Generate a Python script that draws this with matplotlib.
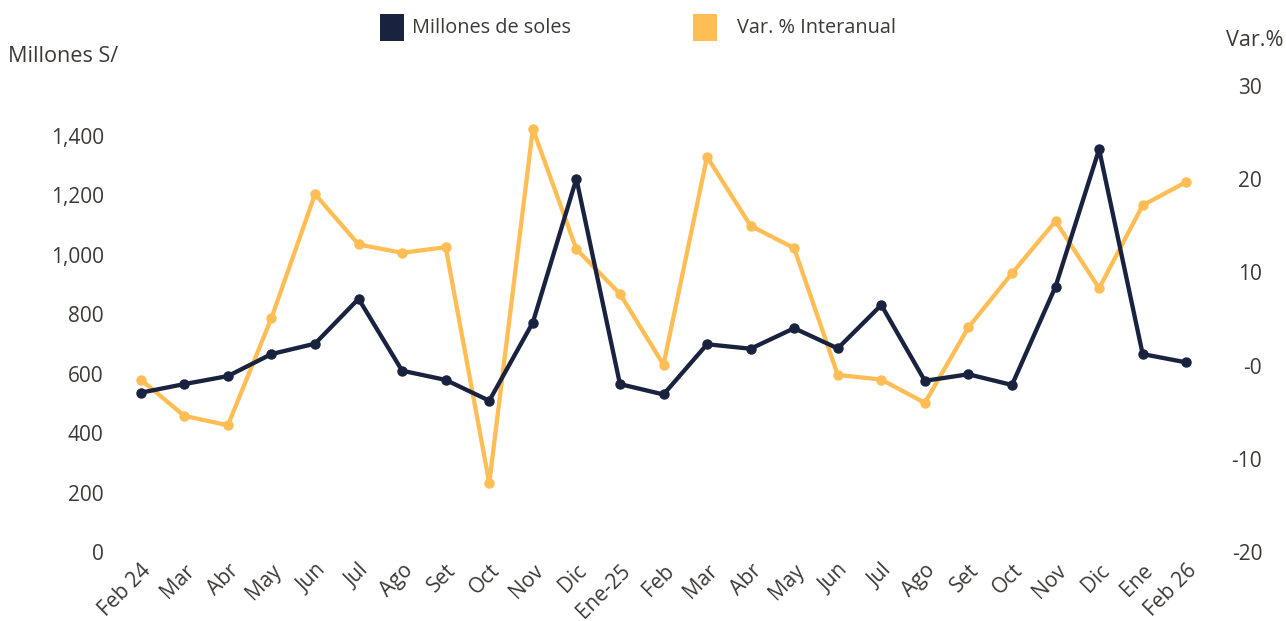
import matplotlib
matplotlib.use("Agg")
import matplotlib.pyplot as plt
from matplotlib.patches import Rectangle
from matplotlib.ticker import FuncFormatter

plt.rcParams['font.family'] = ['Open Sans', 'DejaVu Sans']

categories = ["Feb 24", "Mar", "Abr", "May", "Jun", "Jul", "Ago", "Set", "Oct", "Nov", "Dic",
              "Ene-25", "Feb", "Mar", "Abr", "May", "Jun", "Jul", "Ago", "Set", "Oct", "Nov",
              "Dic", "Ene", "Feb 26"]
millones = [536, 565, 592, 666, 701, 852, 610, 579, 509, 772, 1256,
            565, 530, 699, 684, 753, 685, 831, 576, 598, 562, 893,
            1355, 666, 638]
var_pct = [-1.5, -5.4, -6.4, 5.1, 18.4, 13.0, 12.1, 12.7, -12.6, 25.4, 12.5,
           7.7, 0.1, 22.4, 15.0, 12.6, -1.0, -1.5, -4.0, 4.1, 9.9, 15.5,
           8.3, 17.2, 19.7]
left_ticks = [0, 200, 400, 600, 800, 1000, 1200, 1400]
right_ticks = [-20, -10, 0, 10, 20, 30]
right_labels = ["-20", "-10", "-0", "10", "20", "30"]

NAVY = "#19233f"
ORANGE = "#ffbe55"
TEXT = "#3d3935"

W, H = 1286, 621
fig = plt.figure(figsize=(W / 100, H / 100), dpi=100)
ax = fig.add_axes([119 / W, 69 / H, (1208 - 119) / W, 466 / H])
ax2 = ax.twinx()

x = list(range(len(categories)))
ax2.plot(x, var_pct, color=ORANGE, lw=3.1, marker="o", ms=6.5, zorder=2)
ax.plot(x, millones, color=NAVY, lw=3.1, marker="o", ms=6.5, zorder=3)

ax.set_zorder(ax2.get_zorder() + 1)
ax.patch.set_visible(False)

ax.set_xlim(-0.5, len(categories) - 0.5)
ax.set_ylim(0, 1568)
ax.set_yticks(left_ticks)
ax.yaxis.set_major_formatter(FuncFormatter(lambda v, p: f"{int(v):,}"))
ax2.set_ylim(-20, 30)
ax2.set_yticks(right_ticks)
ax2.set_yticklabels(right_labels)

ax.set_xticks(x)
ax.set_xticklabels(categories, rotation=45, ha="right", rotation_mode="anchor")

for a in (ax, ax2):
    for s in a.spines.values():
        s.set_visible(False)
    a.tick_params(length=0, colors=TEXT, labelsize=15)

ax.tick_params(axis="y", pad=11)
ax.tick_params(axis="x", pad=6)
ax2.tick_params(axis="y", pad=39)
for lbl in ax2.get_yticklabels():
    lbl.set_horizontalalignment("right")

# legend
fig.patches.append(Rectangle((380 / W, 1 - 41 / H), 24 / W, 27 / H, transform=fig.transFigure,
                             facecolor=NAVY, edgecolor="none"))
fig.text(412 / W, 1 - 28 / H, "Millones de soles", color=TEXT, fontsize=14.3, va="center", ha="left")
fig.patches.append(Rectangle((693 / W, 1 - 41 / H), 24 / W, 27 / H, transform=fig.transFigure,
                             facecolor=ORANGE, edgecolor="none"))
fig.text(737 / W, 1 - 28 / H, "Var. % Interanual", color=TEXT, fontsize=14.3, va="center", ha="left")

fig.text(8 / W, 1 - 57 / H, "Millones S/", color=TEXT, fontsize=15.6, va="center", ha="left")
fig.text(1283 / W, 1 - 40 / H, "Var.%", color=TEXT, fontsize=15.6, va="center", ha="right")

fig.savefig("out.png", dpi=100)
